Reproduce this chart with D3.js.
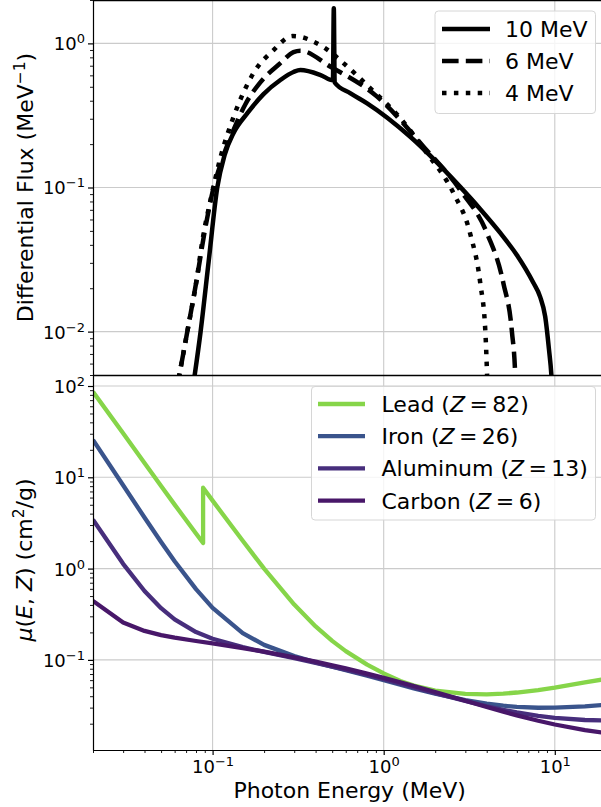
<!DOCTYPE html>
<html>
<head>
<meta charset="utf-8">
<script src="https://cdn.jsdelivr.net/npm/d3@7"></script>
<style>
body { margin: 0; background: #fff; }
svg { display: block; font-family: "DejaVu Sans", sans-serif; }
</style>
</head>
<body>
<svg></svg>
<script>
/* top panel: bremsstrahlung spectra (E in MeV, flux in 1/MeV) */
var fluxLabels = ['10 MeV', '6 MeV', '4 MeV'];
var flux10E = [0.0764, 0.0851, 0.0948, 0.1065, 0.1175, 0.1326, 0.1601, 0.1985, 0.249, 0.297, 0.326, 0.428, 0.505, 0.511, 0.517, 0.64, 0.8, 1.43, 2.8, 3.66, 4.8, 6.0, 7.48, 8.2, 8.79, 9.25, 9.55, 9.75];
var flux10  = [0.00396, 0.0100, 0.0305, 0.100, 0.168, 0.239, 0.329, 0.445, 0.557, 0.633, 0.653, 0.603, 0.555, 1.75, 0.535, 0.450, 0.384, 0.225, 0.101, 0.071, 0.0484, 0.034, 0.0219, 0.0175, 0.0127, 0.0075, 0.005, 0.0031];
var flux6E  = [0.0616, 0.0715, 0.0807, 0.0898, 0.1, 0.1144, 0.1326, 0.1558, 0.1906, 0.249, 0.297, 0.326, 0.489, 0.915, 1.71, 2.8, 4.02, 5.01, 5.62, 5.87, 5.95];
var flux6   = [0.00396, 0.0103, 0.0229, 0.0492, 0.0933, 0.160, 0.251, 0.380, 0.539, 0.730, 0.870, 0.890, 0.689, 0.427, 0.192, 0.096, 0.048, 0.0216, 0.0099, 0.005, 0.003];
var flux4E  = [0.0616, 0.0715, 0.0807, 0.0875, 0.0973, 0.1114, 0.1326, 0.1735, 0.2272, 0.293, 0.326, 0.3904, 0.4567, 0.584, 0.836, 1.252, 1.79, 2.56, 3.2, 3.67, 3.93, 4.02, 4.06];
var flux4   = [0.00396, 0.0103, 0.0229, 0.044, 0.082, 0.163, 0.309, 0.623, 0.899, 1.124, 1.110, 1.026, 0.923, 0.727, 0.488, 0.302, 0.173, 0.0912, 0.048, 0.0216, 0.0099, 0.005, 0.0034];

/* bottom panel: mass attenuation coefficient mu(E,Z) in cm^2/g */
var elementNames = ['Lead', 'Iron', 'Aluminum', 'Carbon'];
var elementZ = [82, 26, 13, 6];
var muEnergy = [0.02, 0.03, 0.04, 0.05, 0.06, 0.08, 0.1, 0.15, 0.2, 0.3, 0.4, 0.5, 0.6, 0.8, 1, 1.25, 1.5, 2, 3, 4, 5, 6, 8, 10, 15, 20];
var leadEnergy = [0.02, 0.03, 0.04, 0.05, 0.06, 0.08, 0.088, 0.088, 0.1, 0.15, 0.2, 0.3, 0.4, 0.5, 0.6, 0.8, 1, 1.25, 1.5, 2, 3, 4, 5, 6, 8, 10, 15, 20];
var muLead = [86.36, 30.32, 14.36, 8.041, 5.021, 2.419, 1.910, 7.683, 5.549, 2.014, 0.9985, 0.4031, 0.2323, 0.1614, 0.1248, 0.0887, 0.07102, 0.05876, 0.05222, 0.04606, 0.04234, 0.04197, 0.04272, 0.04391, 0.04675, 0.04972, 0.05658, 0.06206];
var muIron = [25.68, 8.176, 3.629, 1.958, 1.205, 0.5952, 0.3717, 0.1964, 0.146, 0.1099, 0.094, 0.08414, 0.07704, 0.06699, 0.05995, 0.0535, 0.04883, 0.04265, 0.03621, 0.03312, 0.03146, 0.03057, 0.02991, 0.02994, 0.03092, 0.03224];
var muAluminum = [3.441, 1.128, 0.5685, 0.3681, 0.2778, 0.2018, 0.1704, 0.1378, 0.1223, 0.1042, 0.09276, 0.08445, 0.07802, 0.06841, 0.06146, 0.05496, 0.05006, 0.04324, 0.03541, 0.03106, 0.02836, 0.02655, 0.02437, 0.02318, 0.02195, 0.02168];
var muCarbon = [0.442, 0.2562, 0.2076, 0.1871, 0.1753, 0.161, 0.1514, 0.1347, 0.1229, 0.1066, 0.09546, 0.08715, 0.08058, 0.07076, 0.06361, 0.0569, 0.05179, 0.04442, 0.03562, 0.03047, 0.02708, 0.02469, 0.02154, 0.01959, 0.01698, 0.01575];

var xTicks = [0.1, 1, 10];
var fluxTicks = [0.01, 0.1, 1];
var muTicks = [0.1, 1, 10, 100];

/* svg setting */
var svgWidth = 601;
var svgHeight = 807;
var plotLeft = 93;
var plotRight = 606.3;
var panelTop = {top: 0, bottom: 375};
var panelBottom = {top: 375, bottom: 750};
var scale = {};

var svg = d3.select('svg')
    .attr('width', svgWidth)
    .attr('height', svgHeight);

function zip(xs, ys){
  return xs.map(function(x, i){ return [x, ys[i]]; });
}

function expLabel(d){
  var e = Math.round(Math.log10(d));
  return e < 0 ? '\u2212' + (-e) : '' + e;
}

function translate(x, y) {
  return 'translate(' + x + ',' + y + ')';
}

setScale();
drawClips();
drawGrid(scale.yFlux, fluxTicks, panelTop);
drawGrid(scale.yMu, muTicks, panelBottom);
drawFlux();
drawMu();
drawAxes();
drawLabels();
drawFluxLegend();
drawMuLegend();

function setScale(){
  scale.x = d3.scaleLog()
      .domain([0.02, 20])
      .range([plotLeft, plotRight]);
  scale.yFlux = d3.scaleLog()
      .domain([0.005, 2])
      .range([panelTop.bottom, panelTop.top]);
  scale.yMu = d3.scaleLog()
      .domain([0.0103, 132])
      .range([panelBottom.bottom, panelBottom.top]);
}

function drawClips(){
  var defs = svg.append('defs');
  defs.append('clipPath').attr('id', 'clip-top')
    .append('rect')
      .attr('x', plotLeft).attr('y', panelTop.top)
      .attr('width', plotRight - plotLeft).attr('height', panelTop.bottom - panelTop.top);
  defs.append('clipPath').attr('id', 'clip-bottom')
    .append('rect')
      .attr('x', plotLeft).attr('y', panelBottom.top)
      .attr('width', plotRight - plotLeft).attr('height', panelBottom.bottom - panelBottom.top);
}

function drawGrid(y, yTicks, panel){
  var g = svg.append('g').attr('class', 'grid')
      .attr('stroke', '#cbcbcb')
      .attr('stroke-width', 1.1);
  g.selectAll('line.vx')
      .data(xTicks)
      .enter()
      .append('line')
      .attr('class', 'vx')
      .attr('x1', function(d){ return scale.x(d); })
      .attr('x2', function(d){ return scale.x(d); })
      .attr('y1', panel.top)
      .attr('y2', panel.bottom);
  g.selectAll('line.hy')
      .data(yTicks)
      .enter()
      .append('line')
      .attr('class', 'hy')
      .attr('x1', plotLeft)
      .attr('x2', plotRight)
      .attr('y1', function(d){ return y(d); })
      .attr('y2', function(d){ return y(d); });
}

function drawFlux(){
  var series = [
    {label: fluxLabels[0], values: zip(flux10E, flux10), dash: null},
    {label: fluxLabels[1], values: zip(flux6E, flux6), dash: '16.6,7.2'},
    {label: fluxLabels[2], values: zip(flux4E, flux4), dash: '4.5,7.4'}
  ];
  var line = d3.line()
      .x(function(d){ return scale.x(d[0]); })
      .y(function(d){ return scale.yFlux(d[1]); })
      .curve(d3.curveMonotoneX);

  svg.append('g')
      .attr('clip-path', 'url(#clip-top)')
    .selectAll('path')
      .data(series)
      .enter()
      .append('path')
      .attr('d', function(d){ return line(d.values); })
      .attr('fill', 'none')
      .attr('stroke', '#000')
      .attr('stroke-width', 4.5)
      .attr('stroke-linejoin', 'round')
      .attr('stroke-dasharray', function(d){ return d.dash; });
}

function drawMu(){
  var series = [
    {values: zip(leadEnergy, muLead)},
    {values: zip(muEnergy, muIron)},
    {values: zip(muEnergy, muAluminum)},
    {values: zip(muEnergy, muCarbon)}
  ];
  var line = d3.line()
      .x(function(d){ return scale.x(d[0]); })
      .y(function(d){ return scale.yMu(d[1]); });

  svg.append('g')
      .attr('clip-path', 'url(#clip-bottom)')
    .selectAll('path')
      .data(series)
      .enter()
      .append('path')
      .attr('d', function(d){ return line(d.values); })
      .attr('fill', 'none')
      .attr('stroke', function(d, i){ return d3.interpolateViridis(elementZ[i] / 100); })
      .attr('stroke-width', 4.3)
      .attr('stroke-linejoin', 'round');
}

function styleTicks(g){
  g.attr('font-size', 18)
   .attr('font-family', '"DejaVu Sans", sans-serif');
  g.selectAll('.tick line').attr('stroke-width', 1.2);
  g.select('.domain').attr('stroke-width', 1.2);
}

function powerText(sel){
  sel.each(function(d){
    var t = d3.select(this);
    t.text(null);
    t.append('tspan').text('10');
    t.append('tspan')
        .attr('dy', -7)
        .attr('font-size', 13)
        .text(expLabel(d));
  });
}

function minorTicks(s){
  return s.ticks().filter(function(d){
    return Math.abs(Math.log10(d) - Math.round(Math.log10(d))) > 1e-6;
  });
}

function drawAxes(){
  // top panel y axis
  var gTop = svg.append('g')
      .attr('transform', translate(plotLeft, 0))
      .call(d3.axisLeft(scale.yFlux).tickValues(fluxTicks).tickSize(5).tickSizeOuter(0));
  styleTicks(gTop);
  gTop.selectAll('.tick text').attr('dy', '0.36em').call(powerText);
  svg.append('g')
      .attr('transform', translate(plotLeft, 0))
      .call(d3.axisLeft(scale.yFlux).tickValues(minorTicks(scale.yFlux)).tickSize(3).tickFormat(''))
      .call(function(g){ g.select('.domain').remove(); g.selectAll('line').attr('stroke-width', 0.9); });

  // bottom panel y axis
  var gBot = svg.append('g')
      .attr('transform', translate(plotLeft, 0))
      .call(d3.axisLeft(scale.yMu).tickValues(muTicks).tickSize(5).tickSizeOuter(0));
  styleTicks(gBot);
  gBot.selectAll('.tick text').attr('dy', '0.36em').call(powerText);
  svg.append('g')
      .attr('transform', translate(plotLeft, 0))
      .call(d3.axisLeft(scale.yMu).tickValues(minorTicks(scale.yMu)).tickSize(3).tickFormat(''))
      .call(function(g){ g.select('.domain').remove(); g.selectAll('line').attr('stroke-width', 0.9); });

  // shared x axis
  var gX = svg.append('g')
      .attr('transform', translate(0, panelBottom.bottom))
      .call(d3.axisBottom(scale.x).tickValues(xTicks).tickSize(5).tickSizeOuter(0));
  styleTicks(gX);
  gX.selectAll('.tick text').attr('y', 10).call(powerText);
  svg.append('g')
      .attr('transform', translate(0, panelBottom.bottom))
      .call(d3.axisBottom(scale.x).tickValues(minorTicks(scale.x)).tickSize(3).tickFormat(''))
      .call(function(g){ g.select('.domain').remove(); g.selectAll('line').attr('stroke-width', 0.9); });

  // remaining spines
  svg.append('line')
      .attr('x1', plotLeft).attr('x2', plotRight)
      .attr('y1', 0.6).attr('y2', 0.6)
      .attr('stroke', '#000').attr('stroke-width', 1.2);
  svg.append('line')
      .attr('x1', plotLeft).attr('x2', plotRight)
      .attr('y1', panelTop.bottom + 0.5).attr('y2', panelTop.bottom + 0.5)
      .attr('stroke', '#000').attr('stroke-width', 1.3);
}

function drawLabels(){
  svg.append('text')
      .attr('x', (plotLeft + plotRight) / 2)
      .attr('y', 798)
      .attr('text-anchor', 'middle')
      .attr('font-size', 22)
      .text('Photon Energy (MeV)');

  var yl = svg.append('text')
      .attr('transform', translate(33, 187.5) + ' rotate(-90)')
      .attr('text-anchor', 'middle')
      .attr('font-size', 22);
  yl.append('tspan').text('Differential Flux (MeV');
  yl.append('tspan').attr('dy', -8).attr('font-size', 15.5).text('\u22121');
  yl.append('tspan').attr('dy', 8).text(')');

  var ml = svg.append('text')
      .attr('transform', translate(32, 560) + ' rotate(-90)')
      .attr('text-anchor', 'middle')
      .attr('font-size', 22);
  ml.append('tspan').attr('font-style', 'italic').text('\u03bc');
  ml.append('tspan').text('(');
  ml.append('tspan').attr('font-style', 'italic').text('E');
  ml.append('tspan').text(', ');
  ml.append('tspan').attr('font-style', 'italic').text('Z');
  ml.append('tspan').text(') (cm');
  ml.append('tspan').attr('dy', -8).attr('font-size', 15.5).text('2');
  ml.append('tspan').attr('dy', 8).text('/g)');
}

function drawFluxLegend(){
  var dashes = [null, '16.6,7.2', '4.5,7.4'];
  var g = svg.append('g');
  g.append('rect')
      .attr('x', 435).attr('y', 11)
      .attr('width', 160.5).attr('height', 102.5)
      .attr('rx', 3.5)
      .attr('fill', '#fff').attr('fill-opacity', 0.8)
      .attr('stroke', '#d6d6d6').attr('stroke-width', 1);
  var items = g.selectAll('g.item')
      .data(fluxLabels)
      .enter()
      .append('g')
      .attr('class', 'item')
      .attr('transform', function(d, i){ return translate(0, 29 + i * 32); });
  items.append('line')
      .attr('x1', 442).attr('x2', 490)
      .attr('stroke', '#000')
      .attr('stroke-width', 4.5)
      .attr('stroke-dasharray', function(d, i){ return dashes[i]; });
  items.append('text')
      .attr('x', 505)
      .attr('y', 8)
      .attr('font-size', 22)
      .text(function(d){ return d; });
}

function drawMuLegend(){
  var g = svg.append('g');
  g.append('rect')
      .attr('x', 311.5).attr('y', 386.5)
      .attr('width', 284).attr('height', 133.5)
      .attr('rx', 3.5)
      .attr('fill', '#fff').attr('fill-opacity', 0.8)
      .attr('stroke', '#d6d6d6').attr('stroke-width', 1);
  var items = g.selectAll('g.item')
      .data(elementNames)
      .enter()
      .append('g')
      .attr('class', 'item')
      .attr('transform', function(d, i){ return translate(0, 404 + i * 32.2); });
  items.append('line')
      .attr('x1', 318).attr('x2', 365)
      .attr('stroke', function(d, i){ return d3.interpolateViridis(elementZ[i] / 100); })
      .attr('stroke-width', 4.3);
  var t = items.append('text')
      .attr('x', 381.5)
      .attr('y', 8)
      .attr('font-size', 22);
  t.append('tspan').text(function(d){ return d + ' ('; });
  t.append('tspan').attr('font-style', 'italic').text('Z');
  t.append('tspan').text(function(d, i){ return '\u2009=\u2009' + elementZ[i] + ')'; });
}
</script>
</body>
</html>
